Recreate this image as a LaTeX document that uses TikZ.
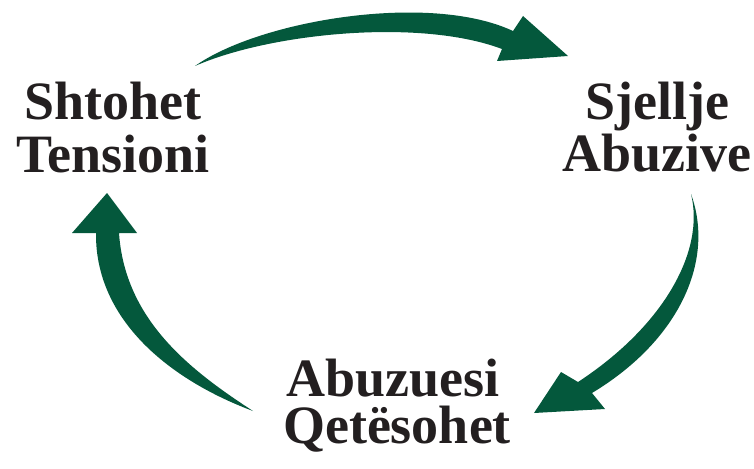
\documentclass[tikz,border=0pt]{standalone}
\usepackage{fontspec}
\setmainfont{Liberation Serif}
\definecolor{arrowgreen}{RGB}{4,88,60}
\definecolor{textblack}{RGB}{35,31,32}
\begin{document}
\begin{tikzpicture}[x=1pt,y=-1pt,
  lbl/.style={anchor=base,inner sep=0pt,text=textblack,font=\fontsize{54}{50}\selectfont\bfseries},
  cyclearrow/.style={fill=arrowgreen,draw=none}]
\useasboundingbox (0,0) rectangle (754,468);
% labels
\node[lbl] (t1a) at (113,120) {Shtohet};
\node[lbl] (t1b) at (113,172) {Tensioni};
\node[lbl] (t2a) at (657,120) {Sjellje};
\node[lbl] (t2b) at (657,171) {Abuzive};
\node[lbl] (t3a) at (393,396) {Abuzuesi};
\node[lbl] (t3b) at (397,443) {Qetësohet};
% top arrow
\fill[cyclearrow] (195,66) .. controls (260,20) and (430,-8) .. (513,31)
  -- (523,16) -- (568,56) -- (497,61) -- (502,49)
  .. controls (420,18) and (270,33) .. (195,66) -- cycle;
% right arrow
\fill[cyclearrow] (691,194) .. controls (715,260) and (680,340) .. (592,393)
  -- (605,409) -- (534,413) -- (561,372) -- (578,382)
  .. controls (665,325) and (705,250) .. (691,194) -- cycle;
% left arrow
\fill[cyclearrow] (253,411) .. controls (190,370) and (125,320) .. (119,233)
  -- (137,233) -- (107,193) -- (72,233) -- (96,233)
  .. controls (95,320) and (170,380) .. (253,411) -- cycle;
\end{tikzpicture}
\end{document}
